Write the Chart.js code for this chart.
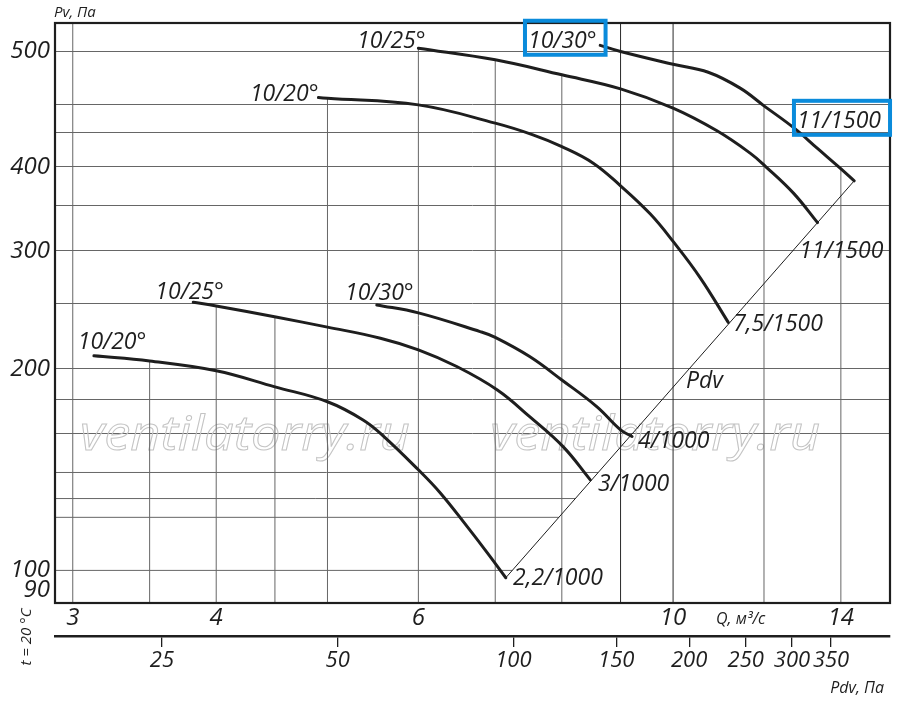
<!DOCTYPE html>
<html>
<head>
<meta charset="utf-8">
<script src="https://cdn.jsdelivr.net/npm/chart.js@4.4.1/dist/chart.umd.min.js"></script>
<style>
  html, body { margin: 0; padding: 0; background: #fff; }
  #wrap { width: 900px; height: 706px; }
</style>
</head>
<body>
<div id="wrap"><canvas id="fanChart" width="900" height="706"></canvas></div>
<script>
// axis limits
const qRange = [2.895, 15.45];
const pRange = [89.4, 656];
const pdvRange = [16.4, 441.6];

// grid lines and tick labels
const qGrid = [3, 3.5, 4, 4.5, 5, 6, 7, 8, 9, 10, 12, 14];
const qLabeled = [3, 4, 6, 10, 14];
const qGridFull = [9, 10];
const pGrid = [100, 120, 128, 140, 160, 180, 200, 250, 300, 350, 400, 450, 496.5, 595];
const pGridToPdv = [100, 120, 128, 140];
const pTickValues = [93.3, 100, 200, 300, 400, 595];
const pTickLabels = ['90', '100', '200', '300', '400', '500'];
const pdvTicks = [25, 50, 100, 150, 200, 250, 300, 350];

// fan curves: Q, m3/s  /  Pv, Pa
const qLow20 = [3.13, 3.5, 4.0, 4.5, 5.0, 5.37, 5.59, 6.0, 6.27, 6.62, 6.89, 7.15];
const pLow20 = [209, 205.4, 198.6, 187.9, 178.5, 167.7, 158.8, 141.3, 130.5, 116.1, 106.2, 97.5];
const qLow25 = [3.82, 4.0, 4.52, 5.0, 5.56, 6.0, 6.48, 7.03, 7.5, 8.02, 8.47];
const pLow25 = [251.3, 248.1, 238.6, 230.7, 222.1, 213.4, 201.5, 185.9, 169.6, 153.0, 136.5];
const qLow30 = [5.52, 6.0, 6.79, 7.0, 7.5, 8.0, 8.58, 9.0, 9.21];
const pLow30 = [249, 242.3, 227.2, 222.7, 208.5, 192.4, 175.6, 162.1, 158.4];
const qHigh20 = [4.91, 5.0, 6.0, 7.0, 7.55, 8.0, 8.52, 9.0, 9.55, 10.0, 10.56, 11.17];
const pHigh20 = [507.7, 506.6, 495.1, 465.0, 446.7, 429.0, 405.3, 374.9, 340.5, 309.7, 273.3, 234.5];
const qHigh25 = [6.0, 7.0, 8.0, 9.0, 10.0, 10.92, 11.67, 12.04, 12.73, 13.36];
const pHigh25 = [601.7, 578.1, 549, 523.2, 489.6, 452.9, 419.5, 400.6, 365.6, 330.4];
const qHigh30 = [8.64, 9.0, 10.0, 10.73, 11.44, 12.0, 12.75, 13.35, 13.98, 14.38];
const pHigh30 = [607.5, 594.8, 569.2, 553.8, 524.4, 493.5, 457.1, 426.7, 398.4, 381.4];

// dynamic pressure line through the curve ends
const pdvLineQ = [7.15, 14.38];
const pdvLineP = [97.5, 381.4];

const curves = [
  [qLow20, pLow20], [qLow25, pLow25], [qLow30, pLow30],
  [qHigh20, pHigh20], [qHigh25, pHigh25], [qHigh30, pHigh30]
];

// text on the plot, anchored at data coords (left, baseline)
const notes = [
  { text: '10/20°', q: 3.03, p: 214 },
  { text: '10/25°', q: 3.54, p: 254 },
  { text: '10/30°', q: 5.18, p: 253.4 },
  { text: '10/20°', q: 4.28, p: 502 },
  { text: '10/25°', q: 5.305, p: 602.5 },
  { text: '10/30°', q: 7.475, p: 602.5, box: true },
  { text: '11/1500', q: 12.82, p: 457.6, box: true },
  { text: '11/1500', q: 12.88, p: 292.7 },
  { text: '7,5/1500', q: 11.28, p: 227.8 },
  { text: 'Pdv', q: 10.26, p: 187.3 },
  { text: '4/1000', q: 9.32, p: 152.3 },
  { text: '3/1000', q: 8.6, p: 131.4 },
  { text: '2,2/1000', q: 7.255, p: 95.1 }
];
const watermarks = [[3.044, 5.90], [6.93, 13.43]];
const watermarkP = 151.3;

const ink = '#1e1e1e';
const gridGrey = '#666';
const font = "'Open Sans', sans-serif";

function logInterp(x, xs, ys) {
  for (let i = 0; i < xs.length - 1; i++) {
    if (x >= xs[i] && x <= xs[i + 1]) {
      const t = (Math.log(x) - Math.log(xs[i])) / (Math.log(xs[i + 1]) - Math.log(xs[i]));
      return Math.exp(Math.log(ys[i]) + t * (Math.log(ys[i + 1]) - Math.log(ys[i])));
    }
  }
  return null;
}

function line(points, color, width, order) {
  return {
    data: points,
    borderColor: color,
    borderWidth: width,
    pointRadius: 0,
    fill: false,
    tension: 0,
    order: order
  };
}

const datasets = [];

// vertical grid: from the bottom up to the highest curve above it
qGrid.forEach(q => {
  let top = pRange[1];
  if (!qGridFull.includes(q)) {
    const hits = curves.map(c => logInterp(q, c[0], c[1])).filter(v => v !== null);
    if (hits.length) top = Math.max(...hits);
  }
  const color = qGridFull.includes(q) ? '#2a2a2a' : gridGrey;
  datasets.push(line([{ x: q, y: pRange[0] }, { x: q, y: top }], color, 1, 10));
});

// low horizontal grid stops at the Pdv line
pGridToPdv.forEach(p => {
  const t = (Math.log(p) - Math.log(pdvLineP[0])) / (Math.log(pdvLineP[1]) - Math.log(pdvLineP[0]));
  const qEnd = Math.exp(Math.log(pdvLineQ[0]) + t * (Math.log(pdvLineQ[1]) - Math.log(pdvLineQ[0])));
  datasets.push(line([{ x: qRange[0], y: p }, { x: qEnd, y: p }], gridGrey, 1, 10));
});

datasets.push(line(pdvLineQ.map((q, i) => ({ x: q, y: pdvLineP[i] })), ink, 1, 2));

curves.forEach(c => {
  const ds = line(c[0].map((q, i) => ({ x: q, y: c[1][i] })), ink, 3, 1);
  ds.tension = 0.4;
  ds.borderCapStyle = 'round';
  datasets.push(ds);
});

const decor = {
  id: 'decor',
  beforeDatasetsDraw(chart) {
    const { ctx, scales: { x, y } } = chart;
    ctx.save();
    ctx.font = 'italic 48px ' + font;
    ctx.strokeStyle = '#c4c4c4';
    ctx.lineWidth = 1;
    watermarks.forEach(w => {
      const x0 = x.getPixelForValue(w[0]);
      const x1 = x.getPixelForValue(w[1]);
      const by = y.getPixelForValue(watermarkP);
      const tw = ctx.measureText('ventilatorry.ru').width;
      ctx.save();
      ctx.translate(x0, by);
      ctx.scale((x1 - x0) / tw, 1);
      ctx.strokeText('ventilatorry.ru', 0, 0);
      ctx.restore();
    });
    ctx.restore();
  },
  afterDraw(chart) {
    const { ctx, chartArea: a, scales: { x, y, pdv } } = chart;
    ctx.save();
    ctx.strokeStyle = ink;
    ctx.lineWidth = 2.2;
    ctx.strokeRect(a.left, a.top, a.right - a.left, a.bottom - a.top);

    ctx.fillStyle = ink;
    ctx.textBaseline = 'alphabetic';
    ctx.textAlign = 'left';
    ctx.font = 'italic 23px ' + font;
    notes.forEach(n => {
      const px = x.getPixelForValue(n.q);
      const py = y.getPixelForValue(n.p);
      ctx.fillText(n.text, px, py);
      if (n.box) {
        const w = ctx.measureText(n.text).width;
        ctx.save();
        ctx.strokeStyle = '#0a8bdb';
        ctx.lineWidth = 4;
        ctx.strokeRect(px - 3, py - 27, w + 12, 34);
        ctx.restore();
      }
    });

    ctx.font = 'italic 15px ' + font;
    ctx.fillText('Pv, Па', a.left - 1, a.top - 6);
    ctx.font = 'italic 16px ' + font;
    ctx.fillText('Q, м³/с', x.getPixelForValue(10.9), a.bottom + 21);
    ctx.textAlign = 'right';
    ctx.fillText('Pdv, Па', a.right - 6, pdv.top + 57);

    ctx.font = 'italic 15px ' + font;
    ctx.translate(31, 637);
    ctx.rotate(-Math.PI / 2);
    ctx.textAlign = 'center';
    ctx.fillText('t = 20 °C', 0, 0);
    ctx.restore();
  }
};

new Chart(document.getElementById('fanChart'), {
  type: 'line',
  data: { datasets: datasets },
  options: {
    responsive: false,
    animation: false,
    devicePixelRatio: 1,
    events: [],
    layout: { padding: { top: 23, right: 10, bottom: 20, left: 0 } },
    plugins: { legend: { display: false }, tooltip: { enabled: false } },
    scales: {
      x: {
        type: 'logarithmic',
        position: 'bottom',
        min: qRange[0],
        max: qRange[1],
        weight: 0,
        afterFit: s => { s.height = 33; },
        afterBuildTicks: s => { s.ticks = qGrid.map(v => ({ value: v })); },
        grid: { display: false },
        border: { display: false },
        ticks: {
          autoSkip: false,
          maxRotation: 0,
          padding: -7,
          color: ink,
          font: { family: font, size: 24, style: 'italic' },
          callback: v => (qLabeled.includes(v) ? String(v) : '')
        }
      },
      pdv: {
        type: 'logarithmic',
        axis: 'x',
        position: 'bottom',
        min: pdvRange[0],
        max: pdvRange[1],
        weight: 1,
        afterFit: s => { s.height = 50; },
        afterBuildTicks: s => { s.ticks = pdvTicks.map(v => ({ value: v })); },
        grid: { display: true, drawOnChartArea: false, drawTicks: true, tickLength: 11, color: ink, lineWidth: 1.3 },
        border: { display: true, color: ink, width: 2.5 },
        ticks: {
          autoSkip: false,
          maxRotation: 0,
          padding: 1,
          color: ink,
          font: { family: font, size: 22, style: 'italic' },
          callback: v => String(v)
        }
      },
      y: {
        type: 'logarithmic',
        position: 'left',
        min: pRange[0],
        max: pRange[1],
        afterFit: s => { s.width = 55; },
        afterBuildTicks: s => {
          const vals = pGrid.concat(pTickValues.filter(v => !pGrid.includes(v)));
          s.ticks = vals.sort((a, b) => a - b).map(v => ({ value: v }));
        },
        grid: {
          drawTicks: false,
          lineWidth: 1,
          color: c => (pGrid.includes(c.tick.value) && !pGridToPdv.includes(c.tick.value) ? gridGrey : 'rgba(0,0,0,0)')
        },
        border: { display: false },
        ticks: {
          autoSkip: false,
          padding: 5,
          color: ink,
          font: { family: font, size: 24, style: 'italic' },
          callback: v => {
            const i = pTickValues.indexOf(v);
            return i >= 0 ? pTickLabels[i] : '';
          }
        }
      }
    }
  },
  plugins: [decor]
});
</script>
</body>
</html>
